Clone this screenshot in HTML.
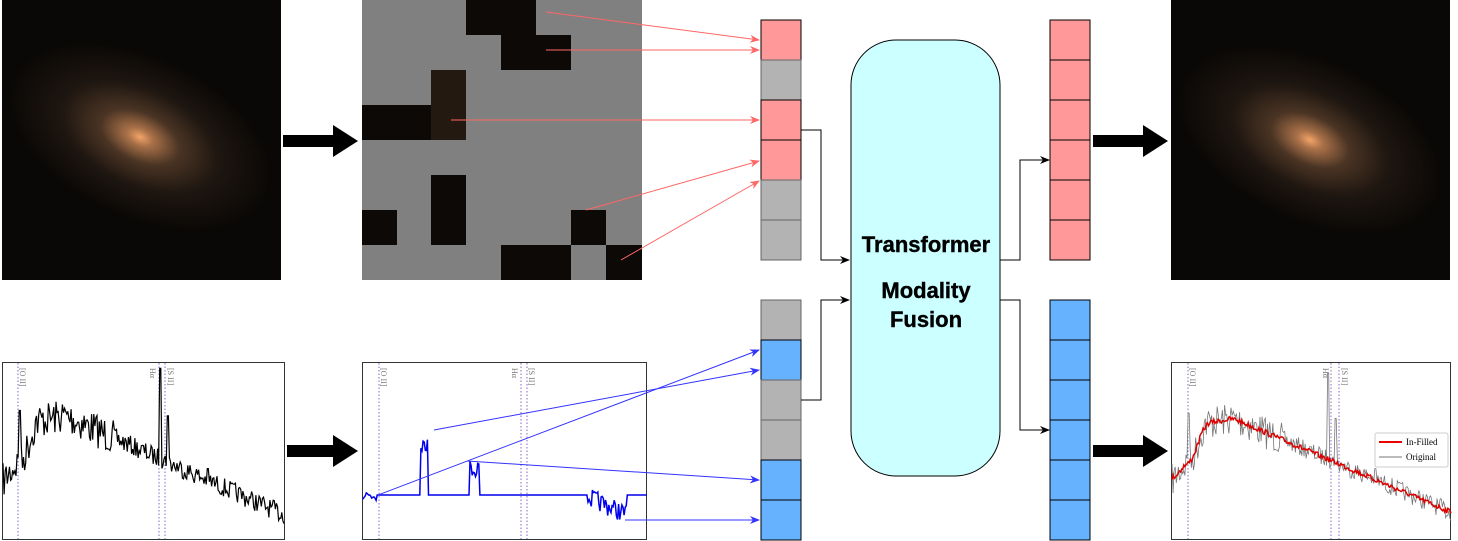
<!DOCTYPE html>
<html><head><meta charset="utf-8"><style>
html,body{margin:0;padding:0;background:#fff;width:1458px;height:541px;overflow:hidden}
svg{display:block}
</style></head><body>
<svg id="s" width="1458" height="541" viewBox="0 0 1458 541" xmlns="http://www.w3.org/2000/svg" font-family="Liberation Sans, sans-serif">
<defs>
<radialGradient id="g1" cx="0.5" cy="0.5" r="0.5">
<stop offset="0" stop-color="#f2a468"/><stop offset="0.1" stop-color="#a87048"/><stop offset="0.3" stop-color="#4a3424"/><stop offset="0.6" stop-color="#1e1610"/><stop offset="1" stop-color="#0a0806"/>
</radialGradient>
<marker id="ar" markerWidth="10" markerHeight="8" refX="9" refY="4" orient="auto" markerUnits="userSpaceOnUse"><path d="M0,0 L10,4 L0,8 L3,4z" fill="#ff6666"/></marker>
<marker id="ab" markerWidth="10" markerHeight="8" refX="9" refY="4" orient="auto" markerUnits="userSpaceOnUse"><path d="M0,0 L10,4 L0,8 L3,4z" fill="#3333ff"/></marker>
<marker id="ak" markerWidth="10" markerHeight="8" refX="9" refY="4" orient="auto" markerUnits="userSpaceOnUse"><path d="M0,0 L10,4 L0,8 L3,4z" fill="#000"/></marker>
</defs>
<rect x="2" y="0" width="279" height="280" fill="#0a0806"/>
<ellipse cx="140" cy="137" rx="140" ry="80" fill="url(#g1)" transform="rotate(25 140 137)"/>
<rect x="362" y="0" width="280" height="280" fill="#808080"/>
<g fill="#0c0906">
<rect x="466" y="0" width="70" height="35"/><rect x="501" y="35" width="70" height="35"/>
<rect x="431" y="70" width="35" height="35"/><rect x="362" y="105" width="104" height="35"/>
<rect x="431" y="175" width="35" height="70"/><rect x="362" y="210" width="35" height="35"/>
<rect x="571" y="210" width="35" height="35"/><rect x="501" y="245" width="70" height="35"/><rect x="606" y="245" width="36" height="35"/>
</g>
<rect x="431" y="70" width="35" height="70" fill="#3a2a1c" opacity="0.5"/>
<rect x="1171" y="0" width="279" height="280" fill="#0a0806"/>
<ellipse cx="1310" cy="140" rx="140" ry="80" fill="url(#g1)" transform="rotate(25 1310 140)"/>
<g fill="#000">
<path d="M283,135 h50 v-10 l25,16 l-25,16 v-10 h-50z"/>
<path d="M1093,135 h50 v-10 l25,16 l-25,16 v-10 h-50z"/>
<path d="M287,445 h46 v-10 l25,16 l-25,16 v-10 h-46z"/>
<path d="M1093,445 h50 v-10 l25,16 l-25,16 v-10 h-50z"/>
</g>
<g stroke="#000" stroke-width="1">
<rect x="761" y="20" width="40" height="40" fill="#ff9999"/>
<rect x="761" y="60" width="40" height="40" fill="#b3b3b3" stroke="#666"/>
<rect x="761" y="100" width="40" height="40" fill="#ff9999"/>
<rect x="761" y="140" width="40" height="40" fill="#ff9999"/>
<rect x="761" y="180" width="40" height="40" fill="#b3b3b3" stroke="#666"/>
<rect x="761" y="220" width="40" height="40" fill="#b3b3b3" stroke="#666"/>
<rect x="761" y="300" width="40" height="40" fill="#b3b3b3" stroke="#666"/>
<rect x="761" y="340" width="40" height="40" fill="#66b2ff"/>
<rect x="761" y="380" width="40" height="40" fill="#b3b3b3" stroke="#666"/>
<rect x="761" y="420" width="40" height="40" fill="#b3b3b3" stroke="#666"/>
<rect x="761" y="460" width="40" height="40" fill="#66b2ff"/>
<rect x="761" y="500" width="40" height="40" fill="#66b2ff"/>
<rect x="1050" y="20" width="40" height="40" fill="#ff9999"/>
<rect x="1050" y="60" width="40" height="40" fill="#ff9999"/>
<rect x="1050" y="100" width="40" height="40" fill="#ff9999"/>
<rect x="1050" y="140" width="40" height="40" fill="#ff9999"/>
<rect x="1050" y="180" width="40" height="40" fill="#ff9999"/>
<rect x="1050" y="220" width="40" height="40" fill="#ff9999"/>
<rect x="1050" y="300" width="40" height="40" fill="#66b2ff"/>
<rect x="1050" y="340" width="40" height="40" fill="#66b2ff"/>
<rect x="1050" y="380" width="40" height="40" fill="#66b2ff"/>
<rect x="1050" y="420" width="40" height="40" fill="#66b2ff"/>
<rect x="1050" y="460" width="40" height="40" fill="#66b2ff"/>
<rect x="1050" y="500" width="40" height="40" fill="#66b2ff"/>
</g>
<rect x="851" y="40" width="149" height="436" rx="45" fill="#ccffff" stroke="#000" stroke-width="1"/>
<g font-weight="bold" font-size="22" text-anchor="middle" fill="#000" stroke="#000" stroke-width="0.4">
<text x="926" y="252">Transformer</text>
<text x="926" y="298">Modality</text>
<text x="926" y="327">Fusion</text>
</g>
<g fill="none" stroke="#000" stroke-width="1">
<path d="M801,130 H821 V260 H849" marker-end="url(#ak)"/>
<path d="M801,400 H821 V300 H849" marker-end="url(#ak)"/>
<path d="M1000,260 H1020 V160 H1049" marker-end="url(#ak)"/>
<path d="M1000,300 H1020 V430 H1049" marker-end="url(#ak)"/>
</g>
<g stroke="#ff6666" stroke-width="1" fill="none">
<line x1="546" y1="12" x2="759" y2="40" marker-end="url(#ar)"/>
<line x1="546" y1="50" x2="759" y2="50" marker-end="url(#ar)"/>
<line x1="451" y1="120" x2="759" y2="120" marker-end="url(#ar)"/>
<line x1="586" y1="210" x2="759" y2="161" marker-end="url(#ar)"/>
<line x1="621" y1="260" x2="759" y2="181" marker-end="url(#ar)"/>
</g>
<rect x="2.5" y="362.5" width="282" height="177" fill="none" stroke="#333"/>
<rect x="362.5" y="362.5" width="284" height="177" fill="none" stroke="#333"/>
<rect x="1171.5" y="362.5" width="279" height="177" fill="none" stroke="#333"/>
<g stroke="#8866cc" stroke-dasharray="1.5,2" stroke-width="1">
<line x1="18" y1="363" x2="18" y2="539"/><line x1="159" y1="363" x2="159" y2="539"/><line x1="165" y1="363" x2="165" y2="539"/>
<line x1="379" y1="363" x2="379" y2="539"/><line x1="521" y1="363" x2="521" y2="539"/><line x1="527" y1="363" x2="527" y2="539"/>
<line x1="1188" y1="363" x2="1188" y2="539"/><line x1="1331" y1="363" x2="1331" y2="539"/><line x1="1339" y1="363" x2="1339" y2="539"/>
</g>
<g font-family="Liberation Serif, serif" font-size="8" fill="#777">
<text transform="translate(20,368) rotate(90)">[O II]</text>
<text transform="translate(150,368) rotate(90)">Hα</text>
<text transform="translate(168,368) rotate(90)">[S II]</text>
<text transform="translate(381,368) rotate(90)">[O II]</text>
<text transform="translate(512,368) rotate(90)">Hα</text>
<text transform="translate(529,368) rotate(90)">[S II]</text>
<text transform="translate(1190,368) rotate(90)">[O II]</text>
<text transform="translate(1323,368) rotate(90)">Hα</text>
<text transform="translate(1342,368) rotate(90)">[S II]</text>
</g>
<g id="spec"></g>
<rect x="1375" y="433" width="73" height="34" rx="2" fill="#fff" stroke="#ccc"/>
<line x1="1379" y1="442" x2="1402" y2="442" stroke="#e00" stroke-width="2"/>
<line x1="1379" y1="457" x2="1402" y2="457" stroke="#777" stroke-width="1"/>
<text x="1406" y="445" font-family="Liberation Serif, serif" font-size="9">In-Filled</text>
<text x="1406" y="460" font-family="Liberation Serif, serif" font-size="9">Original</text>
<g stroke="#3333ff" stroke-width="1" fill="none">
<line x1="434" y1="430" x2="759" y2="370" marker-end="url(#ab)"/>
<line x1="378" y1="495" x2="759" y2="350" marker-end="url(#ab)"/>
<line x1="467" y1="461" x2="759" y2="480" marker-end="url(#ab)"/>
<line x1="625" y1="520" x2="759" y2="520" marker-end="url(#ab)"/>
</g>
</svg>
<script>
(function(){
var seed=7;function r(){seed=(seed*16807)%2147483647;return seed/2147483647;}
function base(t){var y;
 if(t<0.06) y=0.55+ (0.06-t)*2;
 else if(t<0.12) y=0.6-(t-0.06)*4.5;
 else if(t<0.22) y=0.33-(t-0.12)*0.3;
 else y=0.30+(t-0.22)*0.72;
 return y;}
var NS="http://www.w3.org/2000/svg",g=document.getElementById('spec');
function poly(pts,col,w){var p=document.createElementNS(NS,'polyline');p.setAttribute('points',pts.join(' '));p.setAttribute('fill','none');p.setAttribute('stroke',col);p.setAttribute('stroke-width',w);g.appendChild(p);}
var N=260,vals=[];
for(var i=0;i<=N;i++){var t=i/N;var y=base(t)+(r()-0.5)*(t<0.4?0.2:0.11);
 if(Math.abs(t-0.56)<0.004)y=0.03; if(Math.abs(t-0.585)<0.004)y=0.3; if(Math.abs(t-0.06)<0.004)y=0.27; if(Math.abs(t-0.73)<0.004)y=0.6;
 vals.push(y);}
var p=[];for(var i=0;i<=N;i++)p.push((3+i/N*281).toFixed(1)+','+(363+vals[i]*176).toFixed(1));
poly(p,'#000',1.2);
var p2=[];for(var i=0;i<=N;i++){var t=i/N,y=0.75;
 if(t<0.05)y=0.75+(r()-0.5)*0.08;
 else if(t>0.2&&t<0.23)y=0.4+(r())*0.1;
 else if(t>0.375&&t<0.41)y=0.55+(r())*0.1;
 else if(t>0.79&&t<0.93)y=vals[i]+0.05;
 p2.push((363+t*284).toFixed(1)+','+(363+y*176).toFixed(1));}
poly(p2,'#0000ee',1.5);
var p3=[],p4=[];for(var i=0;i<=N;i++){var t=i/N;p3.push((1172+t*279).toFixed(1)+','+(363+(vals[i]*0.95+0.03)*176).toFixed(1));
 var sm=0,c=0;for(var k=-4;k<=4;k++){var j=i+k;if(j>=0&&j<=N){sm+=base(j/N);c++;}} p4.push((1172+t*279).toFixed(1)+','+(363+(sm/c*0.95+0.03+(r()-0.5)*0.03)*176).toFixed(1));}
poly(p3,'#777',0.8);poly(p4,'#dd0000',1.5);
})();
</script>
</body></html>
